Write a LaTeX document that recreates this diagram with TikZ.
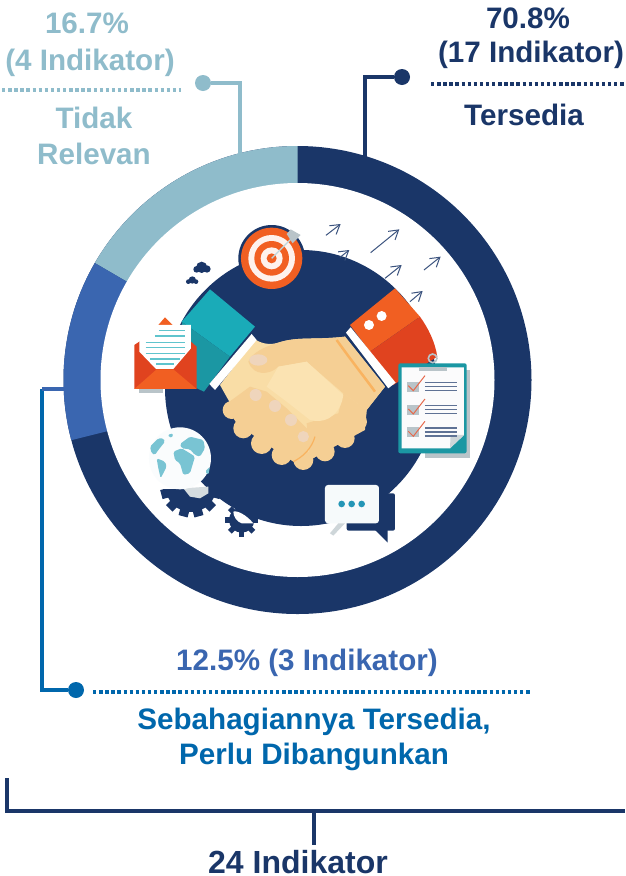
\documentclass[tikz,border=0pt]{standalone}
\usepackage{fontspec}
\setmainfont{Liberation Sans}
\usetikzlibrary{arrows.meta}
\definecolor{navy}{HTML}{1A3668}
\definecolor{lightb}{HTML}{8FBCCB}
\definecolor{midb}{HTML}{3A66B0}
\definecolor{seabl}{HTML}{0067AC}
\definecolor{orng}{HTML}{F15F22}
\definecolor{redo}{HTML}{E0431F}
\definecolor{tealc}{HTML}{1AABB8}
\definecolor{teald}{HTML}{1B97A3}
\definecolor{skin}{HTML}{F5CF94}
\definecolor{skinp}{HTML}{F9DDA6}
\definecolor{skinl}{HTML}{FBE3B2}
\definecolor{nail}{HTML}{EFD5BC}
\definecolor{greyc}{HTML}{B9C4C9}
\definecolor{globec}{HTML}{79C4D3}
\tikzset{
  lbl/.style={font=\fontsize{29.6}{32}\selectfont\bfseries,anchor=base,inner sep=0pt},
  conn/.style={line width=3.6pt,line join=miter},
  dots/.style={line width=3.6pt,dash pattern=on 3.4pt off 2.7pt},
  pin/.style={circle,fill=#1,draw=none,minimum size=16pt,inner sep=0pt},
  arw/.style={navy!85,line width=1pt,-{Straight Barb[length=9pt,width=11pt,line width=1pt]}},
  txline/.style={navy!70,line width=1.2pt},
  lettl/.style={tealc!70!white,line width=1.2pt},
  land/.style={globec,rounded corners=1.6pt},
}
\begin{document}
\begin{tikzpicture}[x=1pt,y=-1pt]
\useasboundingbox (0,0) rectangle (625,876);
\fill[white] (0,0) rectangle (625,876);
% ring
\def\cx{297.5}\def\cy{380}
\begin{scope}
  \clip (\cx,\cy) circle (234);
  \fill[navy] (0,0) rectangle (625,876);
  \fill[lightb] (\cx,\cy) -- (\cx,100) -- (40,100) -- (40,231) -- (160,301) -- cycle;
  \fill[midb] (40,231) -- (160,301) -- (160,418) -- (40,448) -- cycle;
\end{scope}
\fill[white] (\cx,\cy) circle (197);
% centre disc
\fill[navy] (301,388) ellipse [x radius=136,y radius=138];
% illustration, in crop coordinates
\begin{scope}[shift={(130,210)},x=.3333pt,y=-.3333pt]
  % target
  \fill[navy] (425,145) circle (100);
  \fill[orng] (425,145) circle (92);
  \fill[white!92!orng] (425,145) circle (70);
  \fill[orng] (425,145) circle (52);
  \fill[white!92!orng] (425,145) circle (33);
  \fill[orng] (425,145) circle (15);
  \draw[lightb!60!white,line width=1.2pt] (425,145) -- (490,80);
  \fill[greyc] (470,72) -- (482,58) -- (512,75) -- (488,100) -- cycle;
  % growth arrows
  \draw[arw] (588,76) -- (632,42);
  \draw[arw] (722,128) -- (808,58);
  \draw[arw] (882,180) -- (932,140);
  \draw[arw] (765,205) -- (815,165);
  \draw[arw] (840,275) -- (878,243);
  \draw[arw] (630,142) -- (658,120);
  % clouds
  \fill[navy] (215,172) circle (17) (200,178) circle (10) (231,177) circle (11);
  \fill[navy] (187,210) circle (11) (175,215) circle (7) (198,215) circle (7);
  % left sleeve
  \fill[tealc] (240,238) -- (375,350) -- (300,440) -- (155,335) -- cycle;
  \fill[teald] (155,335) -- (300,440) -- (222,545) -- (190,530) -- cycle;
  % right sleeve
  \fill[orng] (795,235) -- (870,320) -- (720,425) -- (660,345) -- cycle;
  \fill[redo] (870,320) .. controls (895,355) and (915,395) .. (922,440) -- (790,525) -- (720,425) -- cycle;
  \fill[white] (755,318) circle (15) (717,345) circle (15);
  % hands (offset crop)
  \begin{scope}[shift={(240,360)}]
    \fill[skinp] (30,165) -- (135,28) .. controls (160,45) and (190,45) .. (215,35)
       .. controls (270,20) and (320,30) .. (405,20) -- (525,170) -- (470,240) -- (465,290) -- (300,390) -- (100,290) -- cycle;
    \fill[skin] (115,95) .. controls (125,70) and (160,50) .. (215,35)
       .. controls (270,20) and (320,30) .. (405,20) -- (525,170) -- (470,240)
       -- (400,190) -- (290,95) -- (205,110) .. controls (180,135) and (130,140) .. cycle;
    \fill[skin] (470,240) -- (465,300) -- (300,390) -- (290,280) -- (385,250) -- (400,190) -- cycle;
    \fill[skin] (445,275) circle (26) (405,325) circle (29) (345,365) circle (29) (280,390) circle (30);
    \fill[skinl] (205,110) -- (290,95) -- (400,195) .. controls (395,240) and (360,285) .. (300,270)
       -- (230,215) -- (170,170) -- cycle;
    \fill[skin] (45,225) -- (120,170) -- (170,185) -- (230,235) -- (280,285) -- (315,320)
       -- (290,365) -- (250,395) -- (150,330) -- (80,280) -- cycle;
    \fill[skin] (65,240) circle (27) (100,295) circle (30) (155,340) circle (32) (215,375) circle (30);
    \fill[nail] (137,195) circle (18) (195,228) circle (18) (243,270) circle (18) (280,320) circle (17);
    \fill[nail] (145,90) ellipse [x radius=27,y radius=17];
    \draw[orange!35!skin,line width=1.2pt] (315,320) .. controls (305,355) and (280,380) .. (250,395);
    \draw[orange!35!skin,line width=2.5pt] (380,30) .. controls (430,100) and (470,150) .. (495,185);
  \end{scope}
  % cuffs
  \fill[white] (365,372) -- (380,390) -- (255,540) -- (238,522) -- cycle;
  \fill[white] (662,352) -- (797,518) -- (775,535) -- (648,368) -- cycle;
  % envelope
  \fill[greyc] (27,535) rectangle (100,550);
  \fill[orng] (85,345) -- (105,322) -- (128,345) -- cycle;
  \fill[redo] (13,405) -- (28,395) -- (183,395) -- (200,410) -- (200,537) -- (13,537) -- cycle;
  \fill[white] (85,345) -- (183,345) -- (183,415) -- (130,477) -- (78,477) -- (28,425) -- (28,395) -- cycle;
  \foreach \yy/\xa/\xb in {362/88/165,378/75/165,397/47/165,413/47/165,430/47/165,447/60/150,462/78/132}
    \draw[lettl] (\xa,\yy) -- (\xb,\yy);
  \fill[orng] (13,537) -- (80,478) -- (130,478) -- (200,537) -- cycle;
  % clipboard
  \fill[greyc] (885,480) -- (1020,480) -- (1020,745) -- (885,745) -- cycle;
  \fill[teald,rounded corners=2pt] (805,460) rectangle (1010,730);
  \fill[white!94!greyc] (815,472) -- (1002,472) -- (1002,675) -- (960,715) -- (815,715) -- cycle;
  \fill[greyc!70!white] (1002,675) -- (962,675) -- (960,715) -- cycle;
  \draw[greyc,line width=1.6pt] (908,445) circle (13);
  \fill[greyc] (866,470) rectangle (950,482);
  \foreach \yy in {0,70,137} {
    \fill[greyc] (832,515+\yy) rectangle (866,545+\yy);
    \draw[redo!80,line width=1pt] (835,527+\yy) -- (850,542+\yy) -- (885,497+\yy);
    \draw[txline] (885,517+\yy) -- (980,517+\yy);
    \draw[txline] (885,529+\yy) -- (980,529+\yy);
    \draw[txline] (885,541+\yy) -- (980,541+\yy);
  }
  % gears
  \begin{scope}
    \clip (60,840) rectangle (290,940);
    \fill[navy] (183,830) circle (76);
    \foreach \a in {15,45,...,345}
      \fill[navy,shift={(183,830)},rotate=\a] (-14,-70) rectangle (14,-92);
  \end{scope}
  \fill[navy] (335,930) circle (38);
  \foreach \a in {0,45,...,315}
    \fill[navy,shift={(335,930)},rotate=\a] (-8,-34) rectangle (8,-50);
  \fill[white] (310,905) .. controls (320,900) and (350,915) .. (370,940) -- (335,940) .. controls (320,935) and (310,920) .. (310,905) -- cycle;
  % globe
  \fill[greyc!60!white] (160,835) -- (235,830) -- (235,850) -- (210,865) -- (180,860) -- cycle;
  \fill[white!96!lightb] (150,745) circle (93);
  \begin{scope}[shift={(30,630)}]
    \fill[land] (100,95) -- (125,85) -- (150,100) -- (165,110) -- (150,160) -- (130,165) -- (120,130) -- (105,120) -- cycle;
    \fill[land] (120,72) -- (150,50) -- (190,60) -- (195,85) -- (180,110) -- (165,105) -- (150,88) -- (125,85) -- cycle;
    \fill[land] (30,80) -- (55,55) -- (70,55) -- (75,65) -- (55,90) -- (45,105) -- (35,100) -- cycle;
    \fill[land] (82,45) -- (100,40) -- (95,55) -- cycle;
    \fill[land] (50,115) -- (75,125) -- (80,140) -- (62,175) -- (55,145) -- cycle;
    \fill[land] (195,155) -- (210,140) -- (205,165) -- cycle;
  \end{scope}
  % speech bubble
  \fill[navy,rounded corners=2pt] (650,850) rectangle (795,962);
  \fill[navy] (735,960) -- (773,960) -- (773,998) -- cycle;
  \fill[white!92!lightb,rounded corners=3pt] (585,825) rectangle (747,940);
  \fill[greyc!70!white] (600,970) -- (625,940) -- (645,940) -- (610,977) -- cycle;
  \fill[tealc!70!midb] (635,882) circle (10) (665,882) circle (10) (695,882) circle (10);
\end{scope}
% texts
\node[lbl,text=lightb] (a1) at (87,33) {16.7\%};
\node[lbl,text=lightb] (a2) at (90,70) {(4 Indikator)};
\node[lbl,text=lightb] (a3) at (94,128) {Tidak};
\node[lbl,text=lightb] (a4) at (94,164) {Relevan};
\node[lbl,text=navy] (b1) at (528,28) {70.8\%};
\node[lbl,text=navy] (b2) at (531,62) {(17 Indikator)};
\node[lbl,text=navy] (b3) at (524,125) {Tersedia};
\node[lbl,text=midb] (c1) at (307,670) {12.5\% (3 Indikator)};
\node[lbl,text=seabl] (c2) at (314,729) {Sebahagiannya Tersedia,};
\node[lbl,text=seabl] (c3) at (314,764) {Perlu Dibangunkan};
\node[lbl,text=navy,font=\fontsize{32}{34}\selectfont\bfseries] (d1) at (298,873) {24 Indikator};
% connectors
\node[pin=lightb] (pa) at (203,83) {};
\node[pin=navy] (pb) at (402,77) {};
\node[pin=seabl] (pc) at (76,690) {};
\coordinate (ea) at (240,155);
\coordinate (eb) at (365,157);
\coordinate (ec) at (42,389);
\coordinate (ed) at (66,389);
\draw[conn,lightb] (pa) -| (ea);
\draw[conn,navy] (pb) -| (eb);
\draw[conn,seabl] (pc) -| (ec);
\draw[conn,midb] (ec) -- (ed);
\coordinate (da1) at (2,90);\coordinate (da2) at (181,90);
\coordinate (db1) at (431,84);\coordinate (db2) at (625,84);
\coordinate (dc1) at (93,692);\coordinate (dc2) at (530,692);
\draw[dots,lightb] (da1) -- (da2);
\draw[dots,navy] (db1) -- (db2);
\draw[dots,seabl] (dc1) -- (dc2);
\coordinate (br1) at (7,778);\coordinate (br2) at (7,811);\coordinate (br3) at (625,811);
\coordinate (st1) at (314,811);\coordinate (st2) at (314,845);
\draw[conn,navy] (br1) -- (br2) -- (br3);
\draw[conn,navy] (st1) -- (st2);
\end{tikzpicture}
\end{document}
